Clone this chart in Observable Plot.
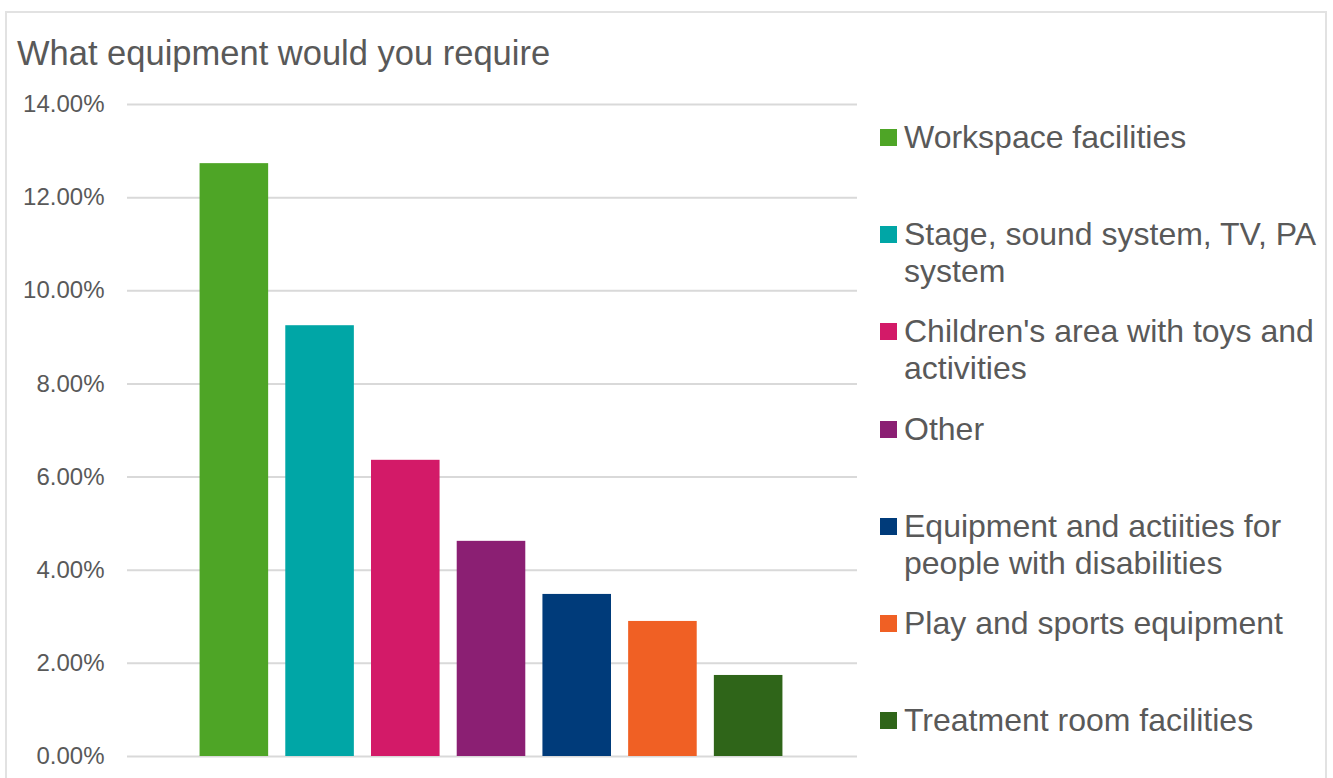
<!DOCTYPE html>
<html>
<head>
<meta charset="utf-8">
<script src="https://cdn.jsdelivr.net/npm/d3@7"></script>
<script src="https://cdn.jsdelivr.net/npm/@observablehq/plot@0.6"></script>
<style>
  html, body { margin: 0; padding: 0; background: #fff; }
  body { width: 1333px; height: 778px; overflow: hidden; font-family: "Liberation Sans", Arial, sans-serif; color: #595959; }
  #wrap { position: relative; width: 1333px; height: 778px; }
  #frame { position: absolute; left: 5px; top: 11px; width: 1322px; height: 800px; border: 2px solid #e2e2e2; box-sizing: border-box; }
  #title { position: absolute; left: 17px; top: 33px; font-size: 34.5px; line-height: 40px; white-space: nowrap; }
  #chart { position: absolute; left: 0; top: 0; }
  #legend { position: absolute; left: 880px; top: 0; }
  .item { position: absolute; left: 0; width: 450px; }
  .sw { position: absolute; left: 0; width: 17px; height: 17px; top: 10px; }
  .lab { position: absolute; left: 24px; width: 425px; font-size: 32px; line-height: 37px; }
</style>
</head>
<body>
<div id="wrap">
  <div id="frame"></div>
  <div id="chart"></div>
  <div id="title">What equipment would you require</div>
  <div id="legend"></div>
</div>
<script>
const categories = [
  "Workspace facilities",
  "Stage, sound system, TV, PA system",
  "Children's area with toys and activities",
  "Other",
  "Equipment and actiities for people with disabilities",
  "Play and sports equipment",
  "Treatment room facilities"
];
const values = [12.73, 9.25, 6.36, 4.62, 3.48, 2.90, 1.74];
const colors = ["#4ea526", "#00a6a6", "#d31a68", "#8b1f73", "#003b7a", "#f06024", "#2f6519"];
const yTicks = [0, 2, 4, 6, 8, 10, 12, 14];

const data = categories.map((c, i) => ({cat: c, value: values[i], color: colors[i]}));

const chart = Plot.plot({
  width: 1333,
  height: 778,
  marginTop: 104,
  marginBottom: 22,
  marginLeft: 127,
  marginRight: 476,
  style: {fontFamily: "'Liberation Sans', Arial, sans-serif", fontSize: "24px", color: "#595959", background: "transparent"},
  x: {domain: categories, paddingInner: 0.2, paddingOuter: 0.1, insetLeft: 64, insetRight: 66, round: false, axis: null},
  y: {domain: [0, 14], ticks: yTicks, tickFormat: d => d.toFixed(2) + "%", tickSize: 0, tickPadding: 23, label: null},
  color: {domain: categories, range: colors},
  marks: [
    Plot.ruleY(yTicks, {stroke: "#d9d9d9", strokeWidth: 2}),
    Plot.barY(data, {x: "cat", y: "value", fill: "cat"})
  ]
});
document.getElementById("chart").appendChild(chart);

const legend = document.getElementById("legend");
const firstTop = 119, step = 97.2;
categories.forEach((c, i) => {
  const item = document.createElement("div");
  item.className = "item";
  item.style.top = (firstTop + i * step) + "px";
  const sw = document.createElement("div");
  sw.className = "sw";
  sw.style.background = colors[i];
  const lab = document.createElement("div");
  lab.className = "lab";
  lab.textContent = c;
  item.appendChild(sw);
  item.appendChild(lab);
  legend.appendChild(item);
});
</script>
</body>
</html>
